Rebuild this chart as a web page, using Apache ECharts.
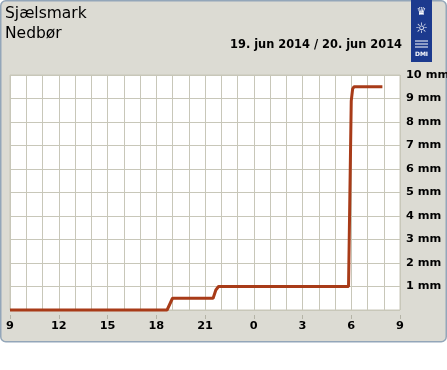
<!DOCTYPE html>
<html><head><meta charset="utf-8">
<script src="https://cdn.jsdelivr.net/npm/echarts@6/dist/echarts.min.js"></script>
<style>html,body{margin:0;padding:0;background:#fff}#c{width:447px;height:370px}</style>
</head><body><div id="c"></div>
<script>
// Cumulative precipitation, 19 jun 2014 09:00 -> 20 jun 2014 09:00
var times = ["09:00","18:40","19:00","21:30","21:40","21:50","05:50","06:00","06:05","06:10","07:55"];
var values = [0, 0, 0.5, 0.5, 0.85, 1.0, 1.0, 8.9, 9.4, 9.5, 9.5];
var hourTicks = ["9","12","15","18","21","0","3","6","9"];
var mmLabels = ["","1 mm","2 mm","3 mm","4 mm","5 mm","6 mm","7 mm","8 mm","9 mm","10 mm"];
var station = "Sjælsmark";
var parameter = "Nedbør";
var dateText = "19. jun 2014 / 20. jun 2014";

function toOffset(t){
  var p = t.split(":"), h = +p[0] + (+p[1])/60;
  var o = h - 9; if (o < 0) o += 24;
  return o;
}
var data = times.map(function(t,i){ return [toOffset(t), values[i]]; });
var gridColor = '#c8c7b9';
var chart = echarts.init(document.getElementById('c'), null, {renderer:'canvas'});
chart.setOption({
  animation:false,
  backgroundColor:'transparent',
  graphic:[
    {type:'rect', z:-10, shape:{x:0.75,y:0.75,width:445.5,height:341,r:5},
     style:{fill:'#dcdbd3', stroke:'#93a6b9', lineWidth:1.5}},
    {type:'text', left:5, top:6, style:{text:station, font:'15.5px "DejaVu Sans"', fill:'#000'}},
    {type:'text', left:5, top:26, style:{text:parameter, font:'15.5px "DejaVu Sans"', fill:'#000'}},
    {type:'text', right:45, top:40, style:{text:dateText, font:'bold 11.4px "DejaVu Sans"', fill:'#000'}},
    {type:'group', left:411, top:0, children:[
      {type:'rect', shape:{x:0,y:0,width:21,height:62}, style:{fill:'#1c3a8e'}},
      {type:'text', x:10.5, y:12, style:{text:'♛', font:'11px "DejaVu Sans"', fill:'#fff', textAlign:'center', textVerticalAlign:'middle'}},
      {type:'text', x:10.5, y:29, style:{text:'☼', font:'14px "DejaVu Sans"', fill:'#fff', textAlign:'center', textVerticalAlign:'middle'}},
      {type:'line', shape:{x1:4,y1:41,x2:17,y2:41}, style:{stroke:'#fff', lineWidth:1}},
      {type:'line', shape:{x1:4,y1:44,x2:17,y2:44}, style:{stroke:'#fff', lineWidth:1}},
      {type:'line', shape:{x1:4,y1:47,x2:17,y2:47}, style:{stroke:'#fff', lineWidth:1}},
      {type:'text', x:10.5, y:54, style:{text:'DMI', font:'bold 6px "DejaVu Sans"', fill:'#fff', textAlign:'center', textVerticalAlign:'middle'}}
    ]}
  ],
  grid:{left:10, right:47, top:75, bottom:60, show:true, backgroundColor:'#ffffff', borderColor:gridColor, borderWidth:1,
        containLabel:false, outerBoundsMode:'none'},
  xAxis:[
    {type:'value', min:0, max:24, interval:1, axisLine:{show:false}, axisTick:{show:false},
     axisLabel:{show:false}, splitLine:{show:true, lineStyle:{color:gridColor, width:1}}},
    {type:'value', min:0, max:24, interval:3, position:'bottom', offset:5,
     axisLine:{show:false}, axisTick:{show:true, length:4, lineStyle:{color:'#b4b3a6'}},
     splitLine:{show:false},
     axisLabel:{margin:6, color:'#000', fontFamily:'DejaVu Sans', fontWeight:'bold', fontSize:11.3,
       formatter:function(v){ return hourTicks[Math.round(v/3)]; }}}
  ],
  yAxis:{type:'value', position:'right', min:0, max:10, interval:1,
    axisLine:{show:false}, axisTick:{show:false},
    splitLine:{show:true, lineStyle:{color:gridColor, width:1}},
    axisLabel:{margin:6, color:'#000', fontFamily:'DejaVu Sans', fontWeight:'bold', fontSize:11.3,
      formatter:function(v){ return mmLabels[Math.round(v)]; }}},
  series:[{type:'line', xAxisIndex:0, data:data, showSymbol:false, smooth:false,
    lineStyle:{color:'#a83b18', width:3}, clip:false}]
});
</script></body></html>
